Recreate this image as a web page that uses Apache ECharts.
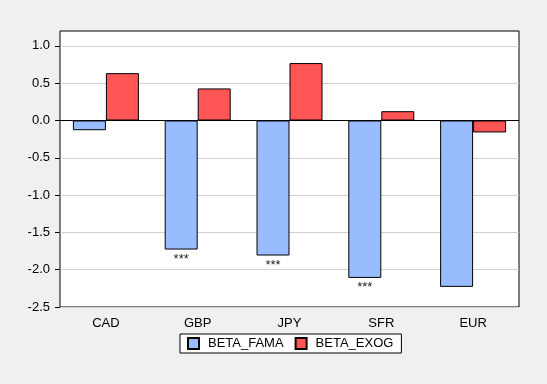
<!DOCTYPE html>
<html><head><meta charset="utf-8">
<script src="https://cdn.jsdelivr.net/npm/echarts@6/dist/echarts.min.js"></script>
<style>html,body{margin:0;padding:0;background:#f0f0f0}#c{width:547px;height:384px}</style>
</head><body><div id="c"></div>
<script>
const categories = ['CAD', 'GBP', 'JPY', 'SFR', 'EUR'];
const betaFama = [-0.13, -1.73, -1.81, -2.11, -2.23];
const betaExog = [0.635, 0.43, 0.77, 0.125, -0.16];
const stars = ['', '***', '***', '***', ''];
const yTicks = [-2.5, -2.0, -1.5, -1.0, -0.5, 0.0, 0.5, 1.0];

const chart = echarts.init(document.getElementById('c'));
const font = 'Liberation Sans, Arial, sans-serif';
chart.setOption({
  backgroundColor: '#f0f0f0',
  animation: false,
  textStyle: { fontFamily: font },
  grid: { left: 60, right: 28, top: 31, bottom: 77, show: true, backgroundColor: '#fff', borderColor: '#000', borderWidth: 1 },
  legend: {
    top: 334, left: 180,
    data: ['BETA_FAMA', 'BETA_EXOG'],
    icon: 'rect',
    itemWidth: 11, itemHeight: 11, itemGap: 11,
    backgroundColor: '#fff', borderColor: '#000', borderWidth: 1,
    padding: [3, 8, 3, 7], borderRadius: 0,
    textStyle: { fontFamily: font, fontSize: 13, color: '#000', padding: [0, 0, 0, 4] }
  },
  xAxis: {
    type: 'category', data: categories,
    axisLine: { show: false }, axisTick: { show: false },
    axisLabel: { margin: 10, fontSize: 13, color: '#000', fontFamily: font }
  },
  yAxis: {
    type: 'value', min: -2.5, max: 1.2, interval: 0.5,
    axisLine: { show: false },
    axisTick: { show: true, length: 5, customValues: yTicks, lineStyle: { color: '#000' } },
    axisLabel: { customValues: yTicks, fontSize: 13, color: '#000', margin: 10, fontFamily: font,
      formatter: v => v.toFixed(1) },
    splitLine: { show: true, lineStyle: { color: '#cfcfcf', width: 1 } }
  },
  series: [
    {
      name: 'BETA_FAMA', type: 'bar', data: betaFama, barWidth: 33, barGap: '0%',
      itemStyle: { color: '#99bbff', borderColor: '#000', borderWidth: 1 },
      label: { show: true, position: 'bottom', distance: 3, fontSize: 13, color: '#222',
        formatter: p => stars[p.dataIndex] },
      markLine: { silent: true, symbol: 'none', label: { show: false },
        lineStyle: { color: '#000', type: 'solid', width: 1 }, data: [{ yAxis: 0 }] }
    },
    {
      name: 'BETA_EXOG', type: 'bar', data: betaExog, barWidth: 33,
      itemStyle: { color: '#ff5555', borderColor: '#000', borderWidth: 1 }
    }
  ]
});
</script></body></html>
